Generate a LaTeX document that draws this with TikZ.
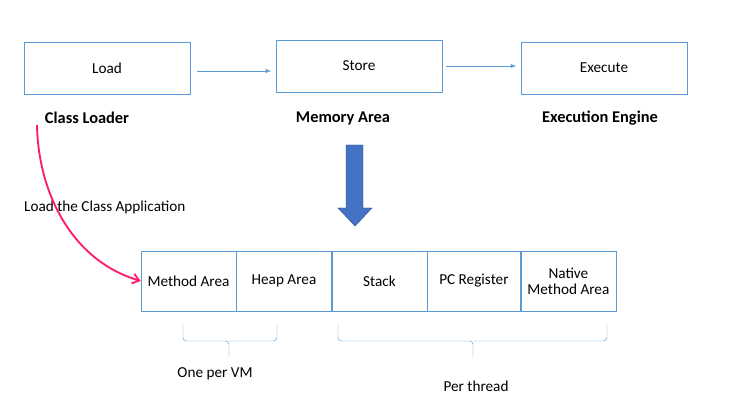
\documentclass[tikz,border=0pt]{standalone}
\usepackage{fontspec}
\setmainfont{Carlito}
\usepackage{tikz}
\usetikzlibrary{arrows.meta,positioning,calc}

\definecolor{boxline}{RGB}{91,155,213}
\definecolor{bigblue}{RGB}{68,114,196}
\definecolor{bigedge}{RGB}{47,82,143}
\definecolor{pinkline}{RGB}{255,30,110}

\begin{document}
\begin{tikzpicture}[
  x=0.03cm, y=-0.03cm,
  font=\fontsize{13}{15}\selectfont,
  box/.style={draw=boxline, minimum width=4.98cm, minimum height=1.56cm, inner sep=2pt},
  cell/.style={draw=boxline, minimum width=2.85cm, minimum height=1.8cm, inner sep=2pt, align=center},
  title/.style={font=\fontsize{14}{16}\selectfont\bfseries},
  flow/.style={-{Latex[length=1.6mm,width=1.2mm]}, boxline, thin},
  brace/.style={boxline, thin, rounded corners=3pt}
]
\useasboundingbox (0,0) rectangle (735,404);

% top row
\node[box] (load) at (107,68) {Load};
\node[box] (store) at (359,66) {Store};
\node[box] (exec) at (604,68) {Execute};
\node[title] (cl) at (87,118) {Class Loader};
\node[title] (ma) at (343,118) {Memory Area};
\node[title] (ee) at (600,118) {Execution Engine};
\draw[flow, shorten <=6pt, shorten >=4pt] (load.east |- 0,71) -- (store.west |- 0,71);
\draw[flow, shorten <=3pt, shorten >=4pt] (store.east) -- (exec.west |- store.east);

% big arrow down
\fill[bigblue, draw=bigedge, thin] (346,145) -- (363,145) -- (363,208) -- (372,208)
  -- (355,226) -- (338,208) -- (346,208) -- cycle;

% runtime data areas
\node[cell] (meth) at (188.5,281) {Method Area};
\node[cell, right=0pt of meth] (heap) {Heap Area};
\node[cell, right=0pt of heap] (stack) {Stack};
\node[cell, right=0pt of stack, minimum width=2.79cm] (pc) {PC Register};
\node[cell, right=0pt of pc, align=center] (native) {Native\\[-1pt]Method Area};

% class loader into method area
\node[anchor=west] (lca) at (20,207) {Load the Class Application};
\coordinate (clstart) at (37,125);
\draw[pinkline, line width=1.6pt, -{Straight Barb[length=2mm,width=3mm]}] (clstart)
  .. controls (38,190) and (70,260) .. (meth.west);

% braces
\draw[brace] (183,324) -- (183,341) -- (229,341) -- (229,357);
\draw[brace] (277,324) -- (277,341) -- (229,341);
\draw[brace] (338,324) -- (338,341) -- (473,341) -- (473,357);
\draw[brace] (607,324) -- (607,341) -- (473,341);
\node (vm) at (215,374) {One per VM};
\node (thr) at (476,386) {Per thread};
\end{tikzpicture}
\end{document}
